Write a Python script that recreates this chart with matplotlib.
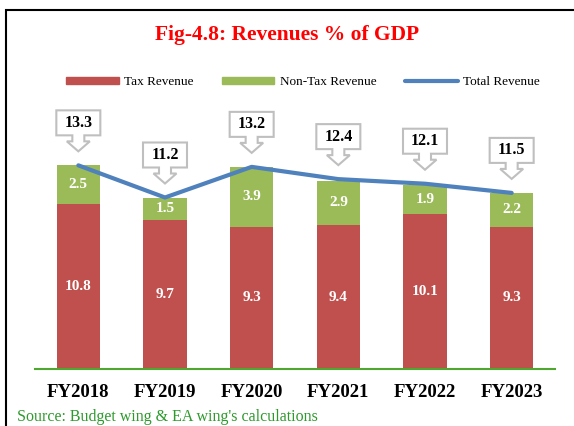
import numpy as np
import matplotlib.pyplot as plt
import matplotlib.transforms as mtransforms
from matplotlib.patches import Polygon, Rectangle
from matplotlib.lines import Line2D

plt.rcParams['font.family'] = ['Liberation Serif', 'DejaVu Serif']

# Data
years = ['FY2018', 'FY2019', 'FY2020', 'FY2021', 'FY2022', 'FY2023']
tax = [10.8, 9.7, 9.3, 9.4, 10.1, 9.3]
non_tax = [2.5, 1.5, 3.9, 2.9, 1.9, 2.2]
total = [13.3, 11.2, 13.2, 12.4, 12.1, 11.5]

c_tax = '#C0504D'
c_nontax = '#9BBB59'
c_total = '#4F81BD'

fig = plt.figure(figsize=(5.74, 4.26), dpi=100)
ax = fig.add_axes([35/574, 1 - 369/426, 520/574, 245/426])

x = np.arange(len(years))
ax.bar(x, tax, width=0.5, color=c_tax)
ax.bar(x, non_tax, width=0.5, bottom=tax, color=c_nontax)
ax.plot(x, total, color=c_total, lw=3, solid_capstyle='round', zorder=3)

# white labels inside the bars
for i in range(len(years)):
    ax.text(x[i], tax[i] / 2, f'{tax[i]:.1f}', ha='center', va='center',
            color='white', fontsize=11, fontweight='bold')
    ax.text(x[i], tax[i] + non_tax[i] / 2, f'{non_tax[i]:.1f}', ha='center', va='center',
            color='white', fontsize=11, fontweight='bold')

# down-arrow callouts for total revenue (shape in pixels, relative to point)
shape = np.array([[0, 14], [11.5, 24], [6, 24], [6, 30], [22, 30], [22, 55],
                  [-22, 55], [-22, 30], [-6, 30], [-6, 24], [-11.5, 24]]) / 100.0
for i in range(len(years)):
    trans = fig.dpi_scale_trans + mtransforms.ScaledTranslation(x[i], total[i], ax.transData)
    ax.add_patch(Polygon(shape, closed=True, transform=trans, facecolor='white',
                         edgecolor='#BFBFBF', lw=1.5, clip_on=False, zorder=4))
    ax.annotate(f'{total[i]:.1f}', (x[i], total[i]), xytext=(0, 42.5),
                textcoords='offset pixels', ha='center', va='center',
                fontsize=11.5, fontweight='bold', color='black', zorder=5)

ax.set_xlim(-0.5, 5.5)
ax.set_ylim(0, 16)
ax.set_xticks(x)
ax.set_xticklabels(years, fontsize=13.5, fontweight='bold')
ax.tick_params(axis='x', length=0, pad=11)
ax.set_yticks([])
for s in ['top', 'right', 'left']:
    ax.spines[s].set_visible(False)
ax.spines['bottom'].set_color('#4EA72E')
ax.spines['bottom'].set_linewidth(1.5)

# legend
handles = [Rectangle((0, 0), 1, 1, color=c_tax),
           Rectangle((0, 0), 1, 1, color=c_nontax),
           Line2D([0], [0], color=c_total, lw=3, solid_capstyle='round')]
fig.legend(handles, ['Tax Revenue', 'Non-Tax Revenue', 'Total Revenue'],
           loc='center', bbox_to_anchor=(303/574, 1 - 82/426), ncol=3, frameon=False,
           fontsize=9.5, handlelength=3.95, handleheight=0.45, handletextpad=0.4,
           columnspacing=2.2, borderpad=0)

fig.text(0.5, 1 - 35/426, 'Fig-4.8: Revenues % of GDP', ha='center', va='center',
         color='#FF0000', fontsize=15.5, fontweight='bold')
fig.text(17/574, 1 - 417/426, "Source: Budget wing & EA wing's calculations",
         ha='left', va='center', color='#2E9A2E', fontsize=11.5)

# outer frame (cropped on right and bottom)
fig.patches.append(Rectangle((6/574, -0.1), 1.2, 1.1 - 10/426, transform=fig.transFigure,
                             fill=False, edgecolor='black', lw=1.5))

fig.savefig('out.png', dpi=100)
